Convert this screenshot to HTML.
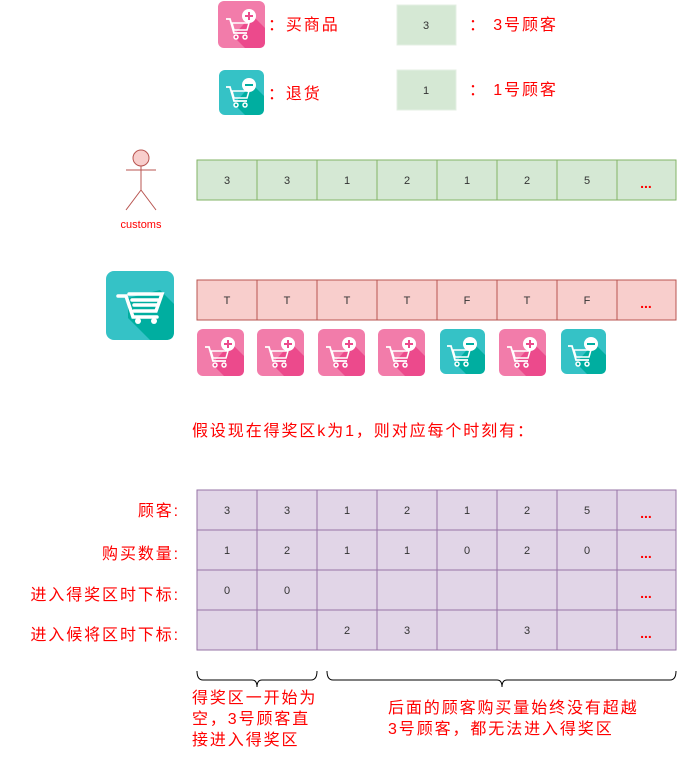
<!DOCTYPE html>
<html><head><meta charset="utf-8"><style>
body{margin:0;width:677px;height:760px;background:#fff;position:relative;overflow:hidden;font-family:"Liberation Sans","Noto Sans CJK SC",sans-serif}
.t{position:absolute;color:#f00;font-size:16px;white-space:nowrap;line-height:21px;letter-spacing:1.9px}
svg{position:absolute;left:0;top:0}
</style></head><body>
<svg width="677" height="760" font-family="Liberation Sans, Noto Sans CJK SC, sans-serif">
<defs>
<g id="cart">
 <path d="M-13,-8 L-9,-8 L-5,6 L8,6" fill="none" stroke="#fff" stroke-width="1.8"/>
 <path d="M-7,-4 L10,-4 L8,3 L-5,3 Z" fill="none" stroke="#fff" stroke-width="1.5"/>
 <circle cx="-3" cy="10" r="2" fill="none" stroke="#fff" stroke-width="1.5"/>
 <circle cx="6" cy="10" r="2" fill="none" stroke="#fff" stroke-width="1.5"/>
</g>
<g id="pink">
 <rect x="0" y="0" width="47" height="47" rx="6" fill="#f27caa"/>
 <path d="M15,35 L34,14 L47,27 L47,41 Q47,47 41,47 L27,47 Z" fill="#ec4a8c"/>
 <use href="#cart" x="21" y="26"/>
 <circle cx="31" cy="15" r="7" fill="#fff"/>
 <path d="M27,15 h8 M31,11 v8" stroke="#ec4a8c" stroke-width="2"/>
</g>
<g id="teal">
 <rect x="0" y="0" width="45" height="45" rx="6" fill="#35c2c6"/>
 <path d="M15,34 L33,14 L45,26 L45,39 Q45,45 39,45 L26,45 Z" fill="#00aea0"/>
 <use href="#cart" x="20" y="25"/>
 <circle cx="30" cy="15" r="7" fill="#fff"/>
 <path d="M26,15 h8" stroke="#00aea0" stroke-width="2"/>
</g>
</defs>
<use href="#pink" x="218" y="1"/>
<use href="#teal" x="219" y="70"/>
<rect x="397" y="5" width="59" height="40" fill="#d5e8d4" stroke="#e4efe3"/>
<text x="426" y="29" font-size="11" text-anchor="middle" fill="#333">3</text>
<rect x="397" y="70" width="59" height="40" fill="#d5e8d4" stroke="#e4efe3"/>
<text x="426" y="94" font-size="11" text-anchor="middle" fill="#333">1</text>
<g stroke="#b85450" stroke-width="1" fill="none">
<circle cx="141" cy="158" r="8" fill="#f8cecc"/>
<path d="M141,166 V190 M126,170 H156 M141,190 L126,210 M141,190 L156,210"/>
</g>
<text x="141" y="228" font-size="11" text-anchor="middle" fill="#f00">customs</text>
<rect x="197" y="160" width="479" height="40" stroke="#82b366" fill="#d5e8d4"/>
<g stroke="#82b366"><path d="M257,160V200M317,160V200M377,160V200M437,160V200M497,160V200M557,160V200M617,160V200"/></g>
<g font-size="11" text-anchor="middle" fill="#333">
<text x="227" y="184">3</text><text x="287" y="184">3</text><text x="347" y="184">1</text><text x="407" y="184">2</text><text x="467" y="184">1</text><text x="527" y="184">2</text><text x="587" y="184">5</text>
</g>
<text x="646" y="188" font-size="14" fill="#f00" text-anchor="middle" font-weight="bold">...</text>
<rect x="106" y="271" width="68" height="69" rx="8" fill="#35c2c6"/>
<path d="M128,298 L160,290 L174,304 L174,332 Q174,340 166,340 L150,340 L128,318 Z" fill="#00aea0"/>
<g fill="none" stroke="#fff" stroke-width="3.5" stroke-linecap="round">
<path d="M118,296 H126 L133,317 H157"/>
<path d="M129,294 H162 L156,311 H134"/>
<path d="M132,300 H158 M134,305 H157"/>
</g>
<circle cx="138" cy="321" r="3" fill="#fff"/><circle cx="154" cy="321" r="3" fill="#fff"/>
<rect x="197" y="280" width="479" height="40" fill="#f8cecc" stroke="#b85450"/>
<g stroke="#b85450"><path d="M257,280V320M317,280V320M377,280V320M437,280V320M497,280V320M557,280V320M617,280V320"/></g>
<g font-size="11" text-anchor="middle" fill="#333">
<text x="227" y="304">T</text><text x="287" y="304">T</text><text x="347" y="304">T</text><text x="407" y="304">T</text><text x="467" y="304">F</text><text x="527" y="304">T</text><text x="587" y="304">F</text>
</g>
<text x="646" y="308" font-size="14" fill="#f00" text-anchor="middle" font-weight="bold">...</text>
<use href="#pink" x="197" y="329"/><use href="#pink" x="257" y="329"/><use href="#pink" x="318" y="329"/><use href="#pink" x="378" y="329"/>
<use href="#teal" x="440" y="329"/><use href="#pink" x="499" y="329"/><use href="#teal" x="561" y="329"/>
<rect x="197" y="490" width="479" height="160" fill="#e1d5e7" stroke="#9673a6"/>
<g stroke="#9673a6"><path d="M257,490V650M317,490V650M377,490V650M437,490V650M497,490V650M557,490V650M617,490V650M197,530H676M197,570H676M197,610H676"/></g>
<g font-size="11" text-anchor="middle" fill="#333">
<text x="227" y="514">3</text><text x="287" y="514">3</text><text x="347" y="514">1</text><text x="407" y="514">2</text><text x="467" y="514">1</text><text x="527" y="514">2</text><text x="587" y="514">5</text>
<text x="227" y="554">1</text><text x="287" y="554">2</text><text x="347" y="554">1</text><text x="407" y="554">1</text><text x="467" y="554">0</text><text x="527" y="554">2</text><text x="587" y="554">0</text>
<text x="227" y="594">0</text><text x="287" y="594">0</text>
<text x="347" y="634">2</text><text x="407" y="634">3</text><text x="527" y="634">3</text>
</g>
<g font-size="14" fill="#f00" text-anchor="middle" font-weight="bold">
<text x="646" y="518">...</text><text x="646" y="558">...</text><text x="646" y="598">...</text><text x="646" y="638">...</text>
</g>
<g fill="none" stroke="#000" stroke-width="1">
<path d="M197,671 Q197,680 203,680 H252 Q257,680 257,687 Q257,680 262,680 H311 Q317,680 317,671"/>
<path d="M327,671 Q327,680 333,680 H497 Q502,680 502,687 Q502,680 507,680 H670 Q676,680 676,671"/>
</g>
</svg>
<div class="t" style="left:268px;top:15px">：买商品</div>
<div class="t" style="left:268px;top:84px">：退货</div>
<div class="t" style="left:469px;top:15px">： 3号顾客</div>
<div class="t" style="left:469px;top:80px">： 1号顾客</div>
<div class="t" style="left:192px;top:421px">假设现在得奖区k为1，则对应每个时刻有：</div>
<div class="t" style="right:497px;top:501px">顾客:</div>
<div class="t" style="right:497px;top:544px">购买数量:</div>
<div class="t" style="right:497px;top:585px">进入得奖区时下标:</div>
<div class="t" style="right:497px;top:625px">进入候将区时下标:</div>
<div class="t" style="left:192px;top:688px">得奖区一开始为<br>空，3号顾客直<br>接进入得奖区</div>
<div class="t" style="left:388px;top:698px">后面的顾客购买量始终没有超越<br>3号顾客，都无法进入得奖区</div>
</body></html>
